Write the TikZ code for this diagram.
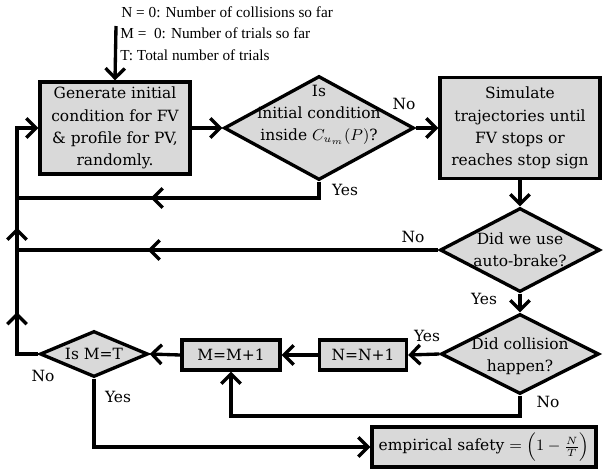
\documentclass[tikz,border=0pt]{standalone}
\usepackage{amsmath}
\usepackage{fontspec}
\setmainfont{Liberation Serif}
\newfontfamily\flowfamily{DejaVu Serif}
\newcommand\flowfont{\flowfamily\fontsize{8.8}{12.7}\selectfont}
\newcommand\notefont{\fontsize{8.7}{11.9}\selectfont}
\usepackage{tikz}
\usetikzlibrary{shapes.geometric,arrows.meta,decorations.markings}
\definecolor{boxgray}{RGB}{217,217,217}

\begin{document}
\begin{tikzpicture}[
  x=0.02cm, y=-0.02cm,
  >={Straight Barb[length=5.5pt,width=11pt]},
  line/.style={line width=1.9pt},
  flow/.style={line, ->},
  box/.style={draw, line width=1.9pt, fill=boxgray, inner sep=0pt, align=center, font=\flowfont},
  dec/.style={draw, diamond, line width=1.9pt, fill=boxgray, inner sep=0pt},
  dectext/.style={align=center, font=\flowfont, inner sep=0pt},
  lbl/.style={font=\flowfont, inner sep=1pt},
  note/.style={font=\notefont, anchor=west, inner sep=0pt},
  midarrow/.style={postaction={decorate, decoration={markings,
    mark=at position #1 with {\arrow{>}}}}},
]
  \useasboundingbox (0,0) rectangle (609,471);

  % start text
  \node[note] (ncoll) at (121,12) {N = 0: Number of collisions so far};
  \node[note] (mtrial) at (120,33) {M = \ 0: Number of trials so far};
  \node[note] (ttotal) at (120,55) {T: Total number of trials};
  \coordinate (start) at (116,26);

  % boxes and decisions
  \node[box, minimum width=3cm, minimum height=1.84cm] (gen) at (115,128)
    {Generate initial\\condition for FV\\\& profile for PV,\\randomly.};
  \node[dec, minimum width=3.8cm, minimum height=2.08cm] (d1) at (319,128) {};
  \node[dectext] (d1txt) at (319,115) {Is\\initial condition\\inside $C_{u_m}(P)$?};
  \node[box, minimum width=3.2cm, minimum height=2.02cm] (sim) at (520,128)
    {Simulate\\trajectories until\\FV stops or\\reaches stop sign};
  \node[dec, minimum width=3.2cm, minimum height=1.68cm] (d2) at (520,250) {};
  \node[dectext] (d2txt) at (520,250) {Did we use\\auto-brake?};
  \node[dec, minimum width=3.16cm, minimum height=1.6cm] (d3) at (520,354) {};
  \node[dectext] (d3txt) at (520,356) {Did collision\\happen?};
  \node[box, minimum width=1.74cm, minimum height=0.6cm] (nb) at (363,355) {N=N+1};
  \node[box, minimum width=1.96cm, minimum height=0.6cm] (mb) at (231,355) {M=M+1};
  \node[dec, minimum width=2.16cm, minimum height=0.92cm] (d4) at (94,354) {};
  \node[dectext] (d4txt) at (94,354) {Is M=T};
  \node[box, minimum width=4.48cm, minimum height=0.8cm] (res) at (484,447)
    {empirical safety $=\Bigl(1-\frac{N}{T}\Bigr)$};

  \coordinate (j0) at (17,128);
  \coordinate (j1) at (17,198);
  \coordinate (j2) at (17,250);
  \coordinate (j3) at (231,416);

  % connectors
  \draw[flow] (start) -- (gen.north);
  \draw[flow] (gen.east) -- (d1.west);
  \draw[flow] (d1.east) -- (sim.west);
  \draw[line, midarrow=0.58] (d1.south) |- (j1);
  \draw[flow] (sim.south) -- (d2.north);
  \draw[line, midarrow=0.69] (d2.west) -- (j2);
  \draw[flow] (d2.south) -- (d3.north);
  \draw[flow] (d3.west) -- (nb.east);
  \draw[flow] (nb.west) -- (mb.east);
  \draw[flow] (d3.south) |- (j3) -- (mb.south);
  \draw[flow] (mb.west) -- (d4.east);
  \draw[flow] (d4.south) |- (res.west);
  \draw[flow, midarrow=0.235, midarrow=0.55] (d4.west) -| (j0) -- (gen.west);

  % branch labels
  \node[lbl] (no1) at (404,104) {No};
  \node[lbl] (yes1) at (345,190) {Yes};
  \node[lbl] (no2) at (413,237) {No};
  \node[lbl] (yes2) at (484,299) {Yes};
  \node[lbl] (yes3) at (427,336) {Yes};
  \node[lbl] (no3) at (548,402) {No};
  \node[lbl] (no4) at (43,376) {No};
  \node[lbl] (yes4) at (118,397) {Yes};

\end{tikzpicture}
\end{document}
